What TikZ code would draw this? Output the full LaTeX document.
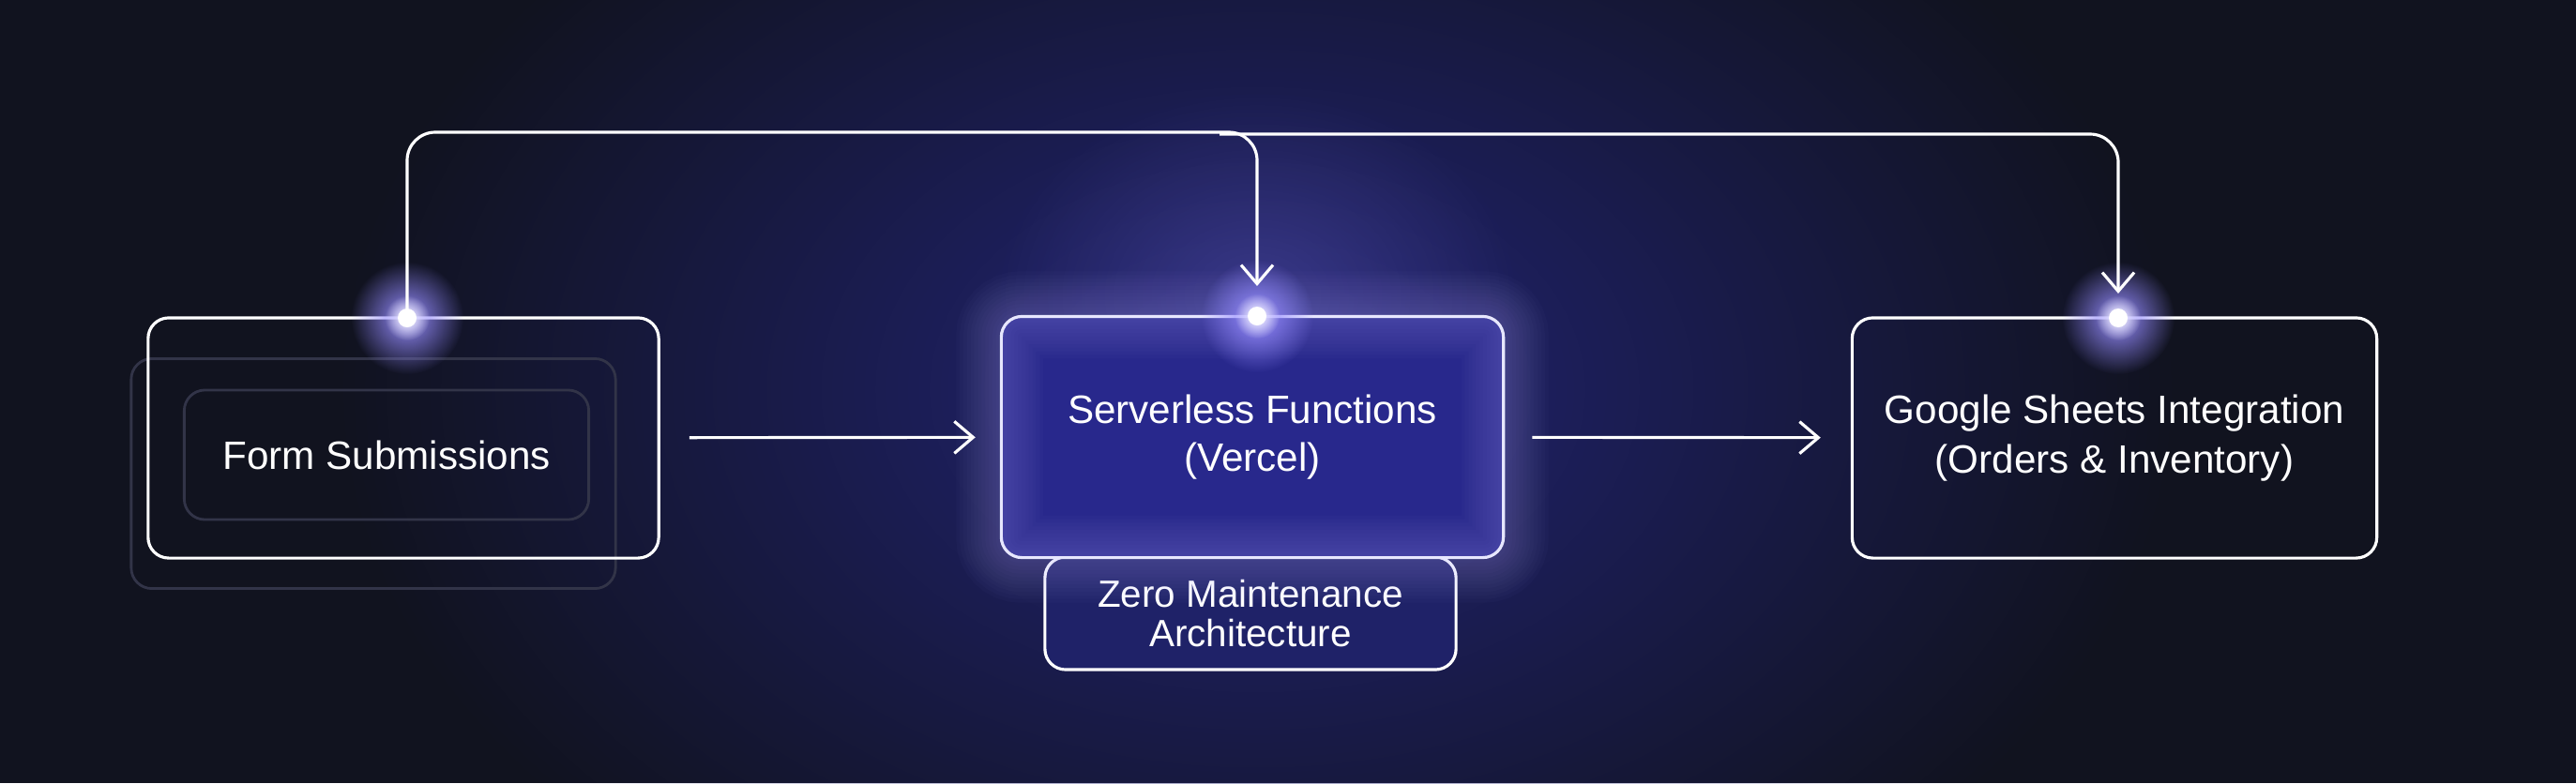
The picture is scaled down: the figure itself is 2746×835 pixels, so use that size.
\documentclass[tikz,border=0pt]{standalone}
\usepackage{fontspec}
\setmainfont{Liberation Sans}
\usetikzlibrary{arrows.meta,positioning,fadings}
\definecolor{bgnavy}{RGB}{17,19,31}
\definecolor{glowblue}{RGB}{34,36,118}
\definecolor{srvfill}{RGB}{40,40,140}
\definecolor{zerofill}{RGB}{31,34,104}
\definecolor{faintline}{RGB}{50,52,72}
\definecolor{lavender}{RGB}{150,140,255}
\tikzfading[name=softglow,inner color=transparent!0,outer color=transparent!100]

\begin{document}
\begin{tikzpicture}[
  x=0.01cm,y=0.01cm,
  font=\fontsize{12}{14.5}\selectfont,
  card/.style={draw=white,line width=0.9pt,rounded corners=2.2mm,inner sep=0pt,align=center,text=white},
  ghost/.style={draw=faintline,line width=0.8pt,rounded corners=2.2mm,inner sep=0pt,align=center,text=white},
  ptr/.style={-{Straight Barb[length=2mm,width=3.4mm]},draw=white,line width=0.9pt},
]
\useasboundingbox (0,0) rectangle (2746,835);
\fill[bgnavy] (0,0) rectangle (2746,835);
% background glow
\fill[glowblue,path fading=softglow] (1340,420) ellipse [x radius=980,y radius=680];
\fill[lavender,opacity=0.22,path fading=softglow] (1340,520) ellipse [x radius=280,y radius=220];

% form submissions, with its two faint frames
\node[ghost,minimum width=5.16cm,minimum height=2.45cm] (formback) at (398,330) {};
\node[ghost,minimum width=4.31cm,minimum height=1.38cm] (forminner) at (412,350) {Form Submissions};
\node[card,minimum width=5.44cm,minimum height=2.56cm] (form) at (430,368) {};

% serverless functions
\node[card,fill=zerofill,minimum width=4.38cm,minimum height=1.2cm,
  font=\fontsize{11.5}{12}\selectfont] (zero) at (1333,181) {Zero Maintenance\\Architecture};
\node[card,fill=srvfill,minimum width=5.35cm,minimum height=2.57cm] (srv) at (1335,369)
  {Serverless Functions\\(Vercel)};
\foreach \i in {1,...,12}{
  \draw[lavender!70!white,opacity=0.025,line width=2.2*\i pt,rounded corners=2.2mm]
    (srv.south west) rectangle (srv.north east);
}

% google sheets
\node[card,minimum width=5.59cm,minimum height=2.56cm,
  font=\fontsize{12}{15}\selectfont] (gs) at (2254,368)
  {Google Sheets Integration\\(Orders \& Inventory)};

% glowing ports
\coordinate (fdot) at (434,496);
\coordinate (sdot) at (1340,498);
\coordinate (gdot) at (2258,496);
\coordinate (sIn) at ([yshift=3.2mm]sdot);
\coordinate (gIn) at ([yshift=2.6mm]gdot);
\coordinate (split) at (1300,692);
\foreach \d in {fdot,sdot,gdot}{
  \fill[lavender,path fading=softglow] (\d) circle (60);
  \fill[white,path fading=softglow] (\d) circle (24);
  \fill[white] (\d) circle (10);
}

% flow
\draw[ptr,shorten <=3.1mm,shorten >=2.6mm] (form) -- (srv);
\draw[ptr,shorten <=2.9mm,shorten >=3.2mm] (srv) -- (gs);
\draw[ptr,rounded corners=3mm] (fdot) -- ++(0,198) -| (sIn);
\draw[ptr,rounded corners=3mm] (split) -| (gIn);
\end{tikzpicture}
\end{document}
